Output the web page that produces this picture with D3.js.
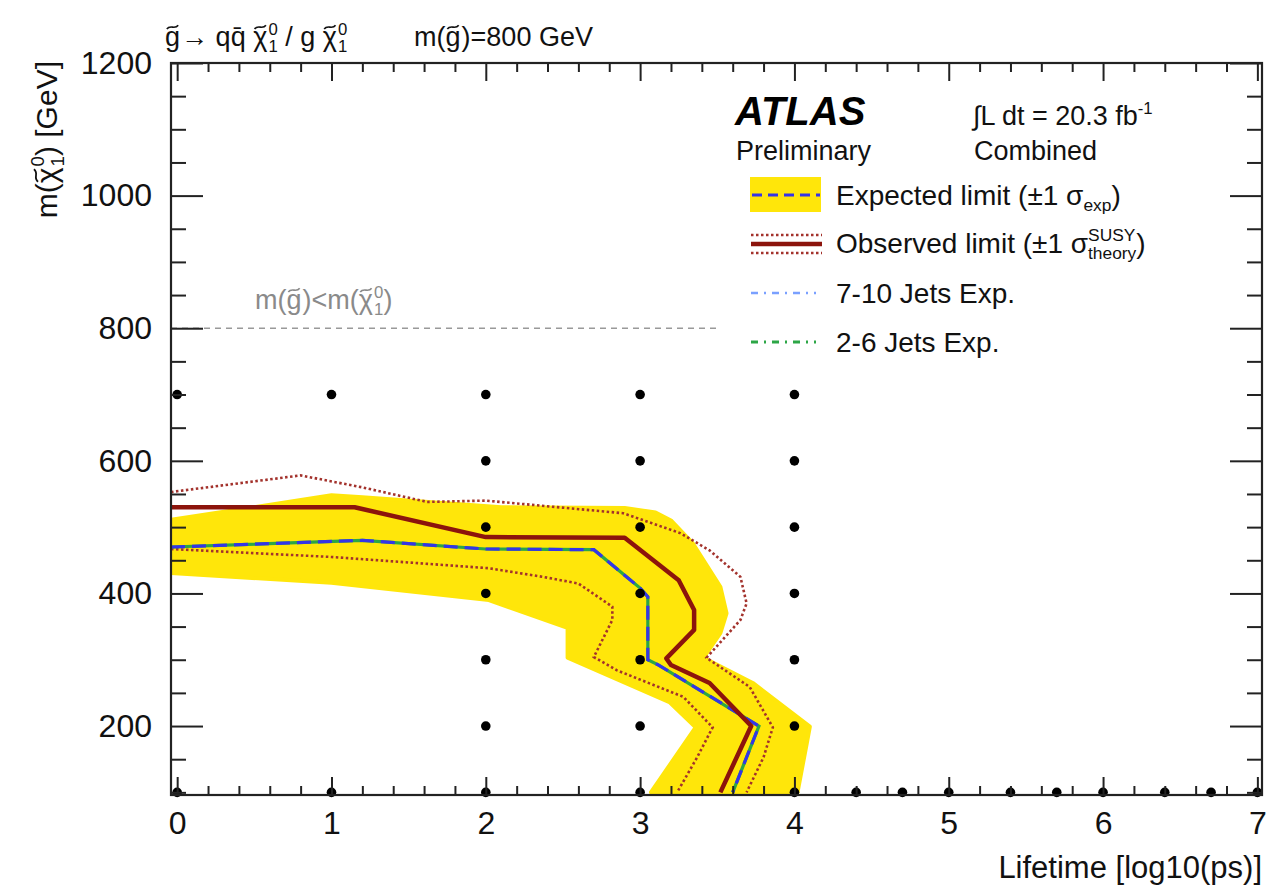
<!DOCTYPE html>
<html><head><meta charset="utf-8">
<script src="https://cdn.jsdelivr.net/npm/d3@7"></script>
<style>body{margin:0;background:#fff}svg{display:block}text{font-family:"Liberation Sans",Arial,Helvetica,sans-serif;white-space:pre}</style>
</head><body><svg id="c" width="1268" height="893"></svg>
<script>
// ---- data (lifetime log10(ps), m(chi) GeV) ----
const bandUpper = [[0,511],[1.0,548],[1.2,545],[2.1,530],[2.9,529],[3.1,522],[3.2,510],[3.34,476],[3.52,410],[3.56,370],[3.52,340],[3.41,303],[3.73,265],[4.1,199],[4.08,174],[4.02,100]];
const bandLower = [[0,431],[1.0,416],[2.02,390],[2.53,348],[2.53,303],[3.19,236],[3.36,198],[3.07,100]];
const expected = [[0,470],[1.2,480],[2.0,467],[2.7,466],[3.0,408],[3.05,395],[3.05,300],[3.12,292],[3.77,200],[3.6,100]];
const jets26 = [[0,470],[1.2,480],[2.0,467],[2.7,466],[3.0,408],[3.05,395],[3.05,300],[3.12,292],[3.77,200],[3.6,100]];
const observed = [[0,530],[1.15,530],[2.0,485],[2.9,484],[3.25,420],[3.35,375],[3.35,345],[3.17,302],[3.2,292],[3.45,265],[3.72,200],[3.52,100]];
const obsUp = [[0,553],[0.8,578],[1.2,560],[1.62,538],[2.0,540],[2.89,521],[3.26,491],[3.45,465],[3.65,425],[3.69,385],[3.65,360],[3.43,303],[3.71,259],[3.86,198],[3.8,153],[3.69,100]];
const obsDown = [[0,467],[1.0,455],[2.02,438],[2.37,425],[2.6,415],[2.82,380],[2.82,360],[2.7,304],[2.85,284],[3.28,244],[3.47,198],[3.37,153],[3.24,100]];
const gridPoints = [[0,700],[0,100],[1,700],[1,100],
  [2,700],[2,600],[2,500],[2,400],[2,300],[2,200],[2,100],
  [3,700],[3,600],[3,500],[3,400],[3,300],[3,200],[3,100],
  [4,700],[4,600],[4,500],[4,400],[4,300],[4,200],[4,100],
  [4.4,100],[4.7,100],[5,100],[5.4,100],[5.7,100],[6,100],[6.4,100],[6.7,100],[7,100]];
const kinLimit = [[0,800],[3.5,800]];
const xMajor = [0,1,2,3,4,5,6,7];
const xMinor = [0.2,0.4,0.6,0.8,1.2,1.4,1.6,1.8,2.2,2.4,2.6,2.8,3.2,3.4,3.6,3.8,4.2,4.4,4.6,4.8,5.2,5.4,5.6,5.8,6.2,6.4,6.6,6.8];
const yMajor = [200,400,600,800,1000,1200];
const yMinor = [100,150,250,300,350,450,500,550,650,700,750,850,900,950,1050,1100,1150];

// ---- layout ----
const svg = d3.select('#c');
const X0=171, X1=1262, Y0=795, Y1=63;
const xDom=[-0.04,7.03];
const x = d3.scaleLinear().domain(xDom).range([X0,X1]);
const y = d3.scaleLinear().domain([96,1200]).range([Y0,Y1]);
const px = d => x(d[0]===0 ? xDom[0] : d[0]);

svg.append('clipPath').attr('id','clip').append('rect').attr('x',X0).attr('y',Y1).attr('width',X1-X0).attr('height',Y0-Y1);
const plot = svg.append('g').attr('clip-path','url(#clip)');
const line = d3.line().x(px).y(d=>y(d[1]));

const YEL='#ffe60a', RED='#8c140c', DOT='#a3322c', BLUE='#3535e6', GREEN='#2ca646', LBLUE='#7aa0ff';

plot.append('path').attr('d', line(bandUpper.concat(bandLower.slice().reverse()))+'Z').attr('fill',YEL).attr('stroke',YEL).attr('stroke-width',4).attr('stroke-linejoin','round');
plot.append('path').attr('d',line(kinLimit)).attr('fill','none').attr('stroke','#999').attr('stroke-width',1.5).attr('stroke-dasharray','6,5');
plot.append('path').attr('d',line(obsDown)).attr('fill','none').attr('stroke',DOT).attr('stroke-width',2.6).attr('stroke-dasharray','2.5,2.5');
plot.append('path').attr('d',line(obsUp)).attr('fill','none').attr('stroke',DOT).attr('stroke-width',2.6).attr('stroke-dasharray','2.5,2.5');
plot.append('path').attr('d',line(jets26)).attr('fill','none').attr('stroke',GREEN).attr('stroke-width',3.2);
plot.append('path').attr('d',line(expected)).attr('fill','none').attr('stroke',BLUE).attr('stroke-width',3.2).attr('stroke-dasharray','14,7');
plot.append('path').attr('d',line(observed)).attr('fill','none').attr('stroke',RED).attr('stroke-width',4.5).attr('stroke-linejoin','round');
svg.append('g').selectAll('circle').data(gridPoints).join('circle')
  .attr('cx',d=>x(d[0])).attr('cy',d=>y(d[1])).attr('r',4.8).attr('fill','#000');

// ---- axes ----
function styleAxis(g){ g.select('.domain').remove(); g.selectAll('line').attr('stroke','#222').attr('stroke-width',2);
  g.selectAll('text').attr('font-size',32).attr('fill','#111').attr('font-family','"Liberation Sans",Arial,sans-serif'); }
svg.append('g').attr('transform',`translate(0,${Y0})`).call(d3.axisBottom(x).tickValues(xMajor).tickSize(-18).tickPadding(16).tickFormat(d3.format('d'))).call(styleAxis);
svg.append('g').attr('transform',`translate(0,${Y0})`).call(d3.axisBottom(x).tickValues(xMinor).tickSize(-9).tickFormat('')).call(styleAxis);
svg.append('g').attr('transform',`translate(0,${Y1})`).call(d3.axisTop(x).tickValues(xMajor).tickSize(-18).tickFormat('')).call(styleAxis);
svg.append('g').attr('transform',`translate(0,${Y1})`).call(d3.axisTop(x).tickValues(xMinor).tickSize(-9).tickFormat('')).call(styleAxis);
svg.append('g').attr('transform',`translate(${X0},0)`).call(d3.axisLeft(y).tickValues(yMajor).tickSize(-32).tickPadding(19).tickFormat(d3.format('d'))).call(styleAxis);
svg.append('g').attr('transform',`translate(${X0},0)`).call(d3.axisLeft(y).tickValues(yMinor).tickSize(-15).tickFormat('')).call(styleAxis);
svg.append('g').attr('transform',`translate(${X1},0)`).call(d3.axisRight(y).tickValues(yMajor).tickSize(-32).tickFormat('')).call(styleAxis);
svg.append('g').attr('transform',`translate(${X1},0)`).call(d3.axisRight(y).tickValues(yMinor).tickSize(-15).tickFormat('')).call(styleAxis);
svg.append('rect').attr('x',X0).attr('y',Y1).attr('width',X1-X0).attr('height',Y0-Y1).attr('fill','none').attr('stroke','#222').attr('stroke-width',2.2);

// ---- rich text helper ----
function rich(g, x0, y0, size, parts, fill){
  fill = fill || '#111';
  let cx = x0;
  parts.forEach(p=>{
    if (typeof p === 'string'){
      const t = g.append('text').attr('x',cx).attr('y',y0).attr('font-size',size).attr('fill',fill).text(p);
      cx += t.node().getComputedTextLength();
    } else if (p.tilde){
      const t = g.append('text').attr('x',cx).attr('y',y0).attr('font-size',size).attr('fill',fill).text(p.tilde);
      const w = t.node().getComputedTextLength();
      const tw = size*0.42, th = size*0.07, tx = cx + w/2 - tw/2, ty = y0 - size*0.7;
      g.append('path').attr('d',`M${tx},${ty+th} C${tx+tw*0.3},${ty-th*1.6} ${tx+tw*0.7},${ty+th*1.6} ${tx+tw},${ty-th}`)
        .attr('fill','none').attr('stroke',fill).attr('stroke-width',size*0.06);
      cx += w + size*0.04;
    } else {
      const s = size*0.62; let w = 0;
      if (p.sup){ const t=g.append('text').attr('x',cx).attr('y',y0-size*0.42).attr('font-size',s).attr('fill',fill).text(p.sup); w=Math.max(w,t.node().getComputedTextLength()); }
      if (p.sub){ const t=g.append('text').attr('x',cx).attr('y',y0+size*0.22).attr('font-size',s).attr('fill',fill).text(p.sub); w=Math.max(w,t.node().getComputedTextLength()); }
      cx += w;
    }
  });
  return cx - x0;
}
const chi = {tilde:'\u03c7'};
const n01 = {sup:'0',sub:'1'};

// title
rich(svg, 165, 46, 27, [{tilde:'g'},'\u2192 qq\u0304 ',chi,n01,' / g ',chi,n01]);
rich(svg, 414, 46, 27, ['m(',{tilde:'g'},')=800 GeV']);

// y label
const yl = svg.append('g');
const W = rich(yl, 0, 0, 30, ['m(',chi,n01,') [GeV]']);
yl.attr('transform',`translate(57,${61+W}) rotate(-90)`);

// x label
const xl = svg.append('g');
const WX = rich(xl, 0, 0, 31, ['Lifetime [log10(ps)]']);
xl.attr('transform',`translate(${1262-WX},878)`);

// kinematic label
rich(svg, 255, 309, 27, ['m(',{tilde:'g'},')<m(',chi,n01,')'], '#8a8a8a');

// ATLAS block
svg.append('text').attr('x',735).attr('y',125).attr('font-size',40).attr('font-weight','bold').attr('font-style','italic').attr('fill','#000').text('ATLAS');
rich(svg, 736, 160, 27, ['Preliminary']);
rich(svg, 973, 125, 27, ['\u222bL dt = 20.3 fb',{sup:'-1'}]);
rich(svg, 974, 160, 27, ['Combined']);

// legend
const lg = svg.append('g');
lg.append('rect').attr('x',750).attr('y',177).attr('width',71).attr('height',35).attr('fill',YEL);
lg.append('line').attr('x1',752).attr('x2',820).attr('y1',195).attr('y2',195).attr('stroke',BLUE).attr('stroke-width',3).attr('stroke-dasharray','10,6');
rich(lg, 836, 205, 28, ['Expected limit (\u00b11 \u03c3',{sub:'exp'},')']);
lg.append('line').attr('x1',751).attr('x2',822).attr('y1',244).attr('y2',244).attr('stroke',RED).attr('stroke-width',4.5);
[235,253].forEach(yy=>lg.append('line').attr('x1',751).attr('x2',822).attr('y1',yy).attr('y2',yy).attr('stroke',DOT).attr('stroke-width',2.4).attr('stroke-dasharray','2.5,2.5'));
rich(lg, 836, 253, 28, ['Observed limit (\u00b11 \u03c3',{sup:'SUSY',sub:'theory'},')']);
lg.append('line').attr('x1',751).attr('x2',816).attr('y1',293).attr('y2',293).attr('stroke',LBLUE).attr('stroke-width',2.5).attr('stroke-dasharray','7,6,2,6');
rich(lg, 836, 303, 28, ['7-10 Jets Exp.']);
lg.append('line').attr('x1',751).attr('x2',816).attr('y1',342).attr('y2',342).attr('stroke',GREEN).attr('stroke-width',3).attr('stroke-dasharray','7,6,2,6');
rich(lg, 836, 352, 28, ['2-6 Jets Exp.']);
</script></body></html>
